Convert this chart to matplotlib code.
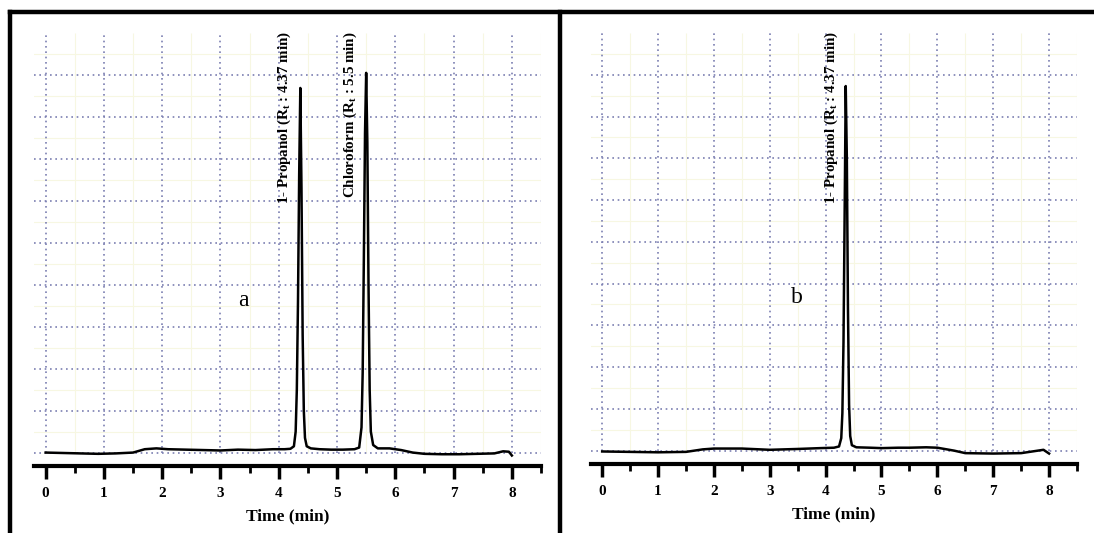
import matplotlib
matplotlib.use("Agg")
import matplotlib.pyplot as plt
from matplotlib.lines import Line2D
from matplotlib.ticker import MultipleLocator

plt.rcParams['font.family'] = ['Liberation Serif', 'DejaVu Serif']
plt.rcParams['mathtext.fontset'] = 'custom'
plt.rcParams['mathtext.rm'] = 'Liberation Serif'
plt.rcParams['mathtext.bf'] = 'Liberation Serif:bold'

# ---- data: chromatogram a (1-propanol + chloroform) ----
time_a = [0.0, 0.3, 0.6, 0.9, 1.2, 1.5, 1.7, 1.9, 2.1, 2.4, 2.7, 3.0, 3.3, 3.6,
          3.9, 4.1, 4.2, 4.26, 4.29, 4.31, 4.33, 4.35, 4.37, 4.39, 4.41, 4.43,
          4.45, 4.48, 4.55, 4.7, 4.9, 5.1, 5.3, 5.38, 5.42, 5.44, 5.46, 5.48,
          5.50, 5.52, 5.54, 5.56, 5.58, 5.62, 5.7, 5.9, 6.1, 6.3, 6.5, 6.8,
          7.1, 7.4, 7.7, 7.85, 7.95, 8.0]
signal_a = [0.0, -0.01, -0.02, -0.03, -0.02, 0.0, 0.08, 0.1, 0.08, 0.07, 0.06,
            0.05, 0.07, 0.06, 0.08, 0.08, 0.09, 0.15, 0.5, 1.5, 3.6, 6.6, 8.69,
            6.3, 2.8, 1.0, 0.35, 0.15, 0.1, 0.08, 0.07, 0.07, 0.08, 0.12, 0.6,
            1.9, 4.6, 7.6, 9.05, 7.4, 4.0, 1.5, 0.5, 0.18, 0.1, 0.1, 0.06,
            0.0, -0.03, -0.04, -0.04, -0.03, -0.02, 0.03, 0.02, -0.07]

# ---- data: chromatogram b (1-propanol only) ----
time_b = [0.0, 0.5, 1.0, 1.5, 1.8, 2.0, 2.5, 3.0, 3.5, 3.9, 4.15, 4.24, 4.28,
          4.30, 4.32, 4.34, 4.36, 4.38, 4.40, 4.42, 4.44, 4.47, 4.55, 4.8,
          5.0, 5.3, 5.5, 5.8, 6.0, 6.3, 6.5, 7.0, 7.5, 7.8, 7.9, 8.0]
signal_b = [-0.02, -0.03, -0.04, -0.03, 0.03, 0.05, 0.05, 0.02, 0.04, 0.06,
            0.07, 0.1, 0.3, 0.9, 2.6, 5.6, 8.73, 7.0, 3.4, 1.1, 0.35, 0.13,
            0.08, 0.07, 0.06, 0.07, 0.07, 0.08, 0.07, 0.0, -0.06, -0.07, -0.06,
            0.0, 0.02, -0.07]

x_ticks = [0, 1, 2, 3, 4, 5, 6, 7, 8]
y_grid = [0, 1, 2, 3, 4, 5, 6, 7, 8, 9]

peak_labels_a = [(4.10, r"1- Propanol (R$_\mathbf{t}$ : 4.37 min)"),
                 (5.23, r"Chloroform (R$_\mathbf{t}$ : 5.5 min)")]
peak_labels_b = [(4.10, r"1- Propanol (R$_\mathbf{t}$ : 4.37 min)")]

W, H = 1094, 533
fig = plt.figure(figsize=(W / 100, H / 100), dpi=100)


def panel(rect, t, s, labels, letter, letter_pos):
    ax = fig.add_axes(rect)
    ax.set_xlim(-0.2, 8.5)
    ax.set_ylim(-0.32, 10)
    for sp in ['left', 'right', 'top']:
        ax.spines[sp].set_visible(False)
    ax.spines['bottom'].set_linewidth(3)
    ax.set_xticks(x_ticks)
    ax.xaxis.set_minor_locator(MultipleLocator(0.5))
    ax.set_yticks(y_grid)
    ax.set_yticks([v + 0.5 for v in y_grid], minor=True)
    ax.tick_params(axis='y', which='both', length=0, labelleft=False)
    ax.tick_params(axis='x', which='major', direction='out', length=9, width=2.5,
                   labelsize=11, pad=6)
    ax.tick_params(axis='x', which='minor', direction='out', length=5, width=2)
    for lab in ax.get_xticklabels():
        lab.set_fontweight('bold')
    # minor faint grid
    ax.grid(True, which='minor', axis='y', color='#f7f7e2', lw=0.8, ls='-')
    ax.vlines([v + 0.5 for v in x_ticks], 0, 10, colors='#f7f7e2', lw=0.8, zorder=0)
    # major dotted grid
    ax.grid(True, which='major', axis='y', color='#7c7fb2', lw=1.2, ls=(0, (1, 2.2)))
    ax.vlines(x_ticks, 0, 10, colors='#7c7fb2', lw=1.2, linestyles=[(0, (1, 2.2))])
    ax.set_axisbelow(True)
    ax.plot(t, s, color='black', lw=1.8, zorder=3)
    for x, txt in labels:
        ax.text(x, 10.05, txt, rotation=90, ha='center', va='top',
                fontsize=10.8, fontweight='bold', zorder=4)
    ax.text(letter_pos[0], letter_pos[1], letter, fontsize=17, ha='center',
            va='center')
    ax.set_xlabel('Time (min)', fontsize=12.5, fontweight='bold', labelpad=6)
    return ax


panel([34 / W, 1 - 466 / H, 507 / W, 433 / H], time_a, signal_a,
      peak_labels_a, 'a', (3.39, 3.63))
panel([591 / W, 1 - 464 / H, 486 / W, 431 / H], time_b, signal_b,
      peak_labels_b, 'b', (3.49, 3.67))

# panel frames
def fline(xs, ys, lw=3.2):
    fig.add_artist(Line2D([x / W for x in xs], [1 - y / H for y in ys],
                          color='black', lw=lw, solid_capstyle='projecting'))

fline([10, 10], [12, 533])
fline([10, 1094], [12, 12])
fline([560, 560], [12, 533])

fig.savefig('out.png', dpi=100)
